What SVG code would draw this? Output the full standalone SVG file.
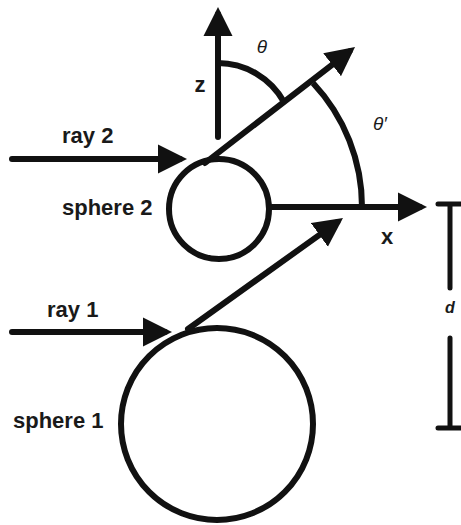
<svg xmlns="http://www.w3.org/2000/svg" width="461" height="525" viewBox="0 0 461 525">
  <style>
    .ln { fill: none; stroke: #111; stroke-width: 6; stroke-linecap: round; }
    .arc { fill: none; stroke: #111; stroke-width: 6; }
    .sph { fill: #fff; stroke: #111; stroke-width: 6; }
    .lbl { font-family: "Liberation Sans", Arial, sans-serif; font-weight: bold; font-size: 22px; fill: #1a1a1a; }
    .ax { font-family: "Liberation Sans", Arial, sans-serif; font-weight: bold; font-size: 22px; fill: #1a1a1a; text-anchor: middle; }
    .gr { font-family: "Liberation Sans", Arial, sans-serif; font-style: italic; font-size: 19px; fill: #1a1a1a; text-anchor: middle; }
  </style>
  <defs>
    <marker id="ah" markerUnits="userSpaceOnUse" markerWidth="30" markerHeight="30" viewBox="0 -15 30 30" refX="22" refY="0" orient="auto">
      <path d="M0,-14.5 L29,0 L0,14.5 Z" fill="#111"/>
    </marker>
  </defs>
  <rect width="461" height="525" fill="#fff"/>

  <g id="sphere1">
    <circle class="sph" cx="217" cy="424" r="96"/>
    <text class="lbl" x="13" y="428">sphere 1</text>
  </g>

  <g id="sphere2">
    <circle class="sph" cx="219" cy="209" r="50"/>
    <text class="lbl" x="62" y="215">sphere 2</text>
  </g>

  <g id="connectors">
    <line class="ln" x1="218" y1="137" x2="218" y2="14" marker-end="url(#ah)"/>
    <line class="ln" x1="12" y1="159" x2="180" y2="159" marker-end="url(#ah)"/>
    <line class="ln" x1="272" y1="207" x2="420" y2="207" marker-end="url(#ah)"/>
    <line class="ln" x1="205" y1="163" x2="349.5" y2="51.3" marker-end="url(#ah)"/>
    <line class="ln" x1="12" y1="332" x2="165" y2="332" marker-end="url(#ah)"/>
    <line class="ln" x1="188" y1="329" x2="337.3" y2="222.1" marker-end="url(#ah)"/>
    <path class="arc" d="M218,63 A76,76 0 0 1 284,102"/>
    <path class="arc" d="M313,83 A181,181 0 0 1 362,207"/>
  </g>

  <g id="dimension-d">
    <path class="ln" d="M438,204 H466 M450,204 V288 M450,338 V428 M438,428 H466" style="stroke-width:5"/>
    <text x="450" y="313" style="font-family:'Liberation Sans',Arial,sans-serif;font-style:italic;font-weight:bold;font-size:16px;fill:#1a1a1a;text-anchor:middle">d</text>
  </g>

  <g id="labels">
    <text class="lbl" x="62" y="143">ray 2</text>
    <text class="lbl" x="47" y="317">ray 1</text>
    <text class="ax" x="200" y="92">z</text>
    <text class="ax" x="387" y="244">x</text>
    <text class="gr" x="262" y="53">θ</text>
    <text class="gr" x="380" y="130">θ′</text>
  </g>
</svg>
